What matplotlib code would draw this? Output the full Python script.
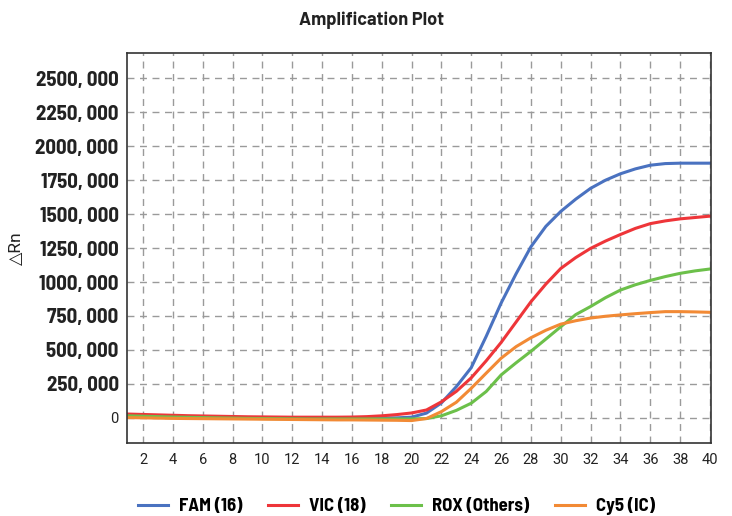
import matplotlib
matplotlib.use('Agg')
import matplotlib.pyplot as plt

plt.rcParams['font.family'] = ['Roboto', 'DejaVu Sans']

# DIN-like faces for the bold labels; Roboto takes over if they are missing
LABEL_FONT = ['Barlow Semi Condensed', 'Roboto', 'DejaVu Sans']
TITLE_FONT = ['Barlow', 'Roboto', 'DejaVu Sans']

CYCLES = list(range(1, 41))

FAM = [8, 6, 5, 4, 3, 2, 1, 0, -1, -2, -2, -3, -3, -3, -3, -3, -2, -1, 0, 5,
       35, 110, 230, 370, 600, 845, 1060, 1260, 1410, 1520,
       1610, 1690, 1750, 1797, 1833, 1860, 1872, 1875, 1875, 1875]
VIC = [28, 25, 22, 19, 16, 14, 12, 10, 8, 7, 6, 5, 5, 5, 5, 6, 9, 15, 24, 36,
       58, 118, 195, 295, 420, 555, 705, 855, 985, 1100,
       1180, 1248, 1302, 1350, 1395, 1430, 1450, 1465, 1475, 1485]
ROX = [15, 12, 9, 6, 4, 2, 0, -2, -4, -5, -6, -7, -8, -8, -8, -8, -8, -8, -8, -8,
       -5, 15, 55, 108, 194, 316, 405, 490, 580, 671,
       760, 820, 885, 941, 980, 1012, 1040, 1064, 1082, 1096]
CY5 = [2, 0, -2, -4, -5, -6, -7, -8, -9, -10, -11, -12, -13, -14, -15, -15, -16, -17, -18, -20,
       -5, 46, 115, 218, 329, 439, 524, 590, 645, 690,
       715, 735, 748, 758, 767, 775, 782, 782, 780, 777]

SERIES = [("FAM (16)", FAM, "#4A72C0"),
          ("VIC (18)", VIC, "#EE3539"),
          ("ROX (Others)", ROX, "#6CC04A"),
          ("Cy5 (IC)", CY5, "#F28A35")]

X_TICKS = list(range(2, 41, 2))
Y_TICKS = list(range(0, 2501, 250))

fig = plt.figure(figsize=(7.32, 5.16), dpi=100)
ax = fig.add_axes([0.1735, 0.1415, 0.7975, 0.7555])

for label, vals, color in SERIES:
    ax.plot(CYCLES, vals, color=color, linewidth=2.2, label=label)

ax.set_xlim(0.93, 40.05)
ax.set_ylim(-185, 2685)
ax.set_xticks(X_TICKS)
ax.set_yticks(Y_TICKS)
ax.set_xticklabels([str(t) for t in X_TICKS], fontsize=10.5, color="#222222")
ylabels = ax.set_yticklabels(["0" if v == 0 else f"{v}, 000" for v in Y_TICKS],
                             fontsize=15, fontweight="bold", color="#222222",
                             family=LABEL_FONT)
ylabels[0].set_fontweight("normal")
ylabels[0].set_fontsize(10.5)
ylabels[0].set_family(['Roboto', 'DejaVu Sans'])
ax.tick_params(axis="both", length=0, pad=6)
ax.tick_params(axis="x", pad=7)

ax.grid(True, color="#9A9A9A", linestyle=(0, (5, 4)), linewidth=1.0)
ax.set_axisbelow(True)
for spine in ax.spines.values():
    spine.set_edgecolor("#333333")
    spine.set_linewidth(1.2)

ax.set_ylabel("△Rn", fontsize=12.5, color="#222222", labelpad=8)
fig.text(0.508, 0.96, "Amplification Plot", ha="center", va="center",
         fontsize=13, fontweight="bold", color="#222222", family=TITLE_FONT)

fig.legend(loc="lower center", bbox_to_anchor=(0.5417, -0.022), ncol=4, frameon=False,
           prop={"size": 13.5, "weight": "bold", "family": LABEL_FONT},
           handlelength=1.6, columnspacing=1.35, handletextpad=0.6, borderpad=0.15)

fig.savefig("out.png", dpi=100)
